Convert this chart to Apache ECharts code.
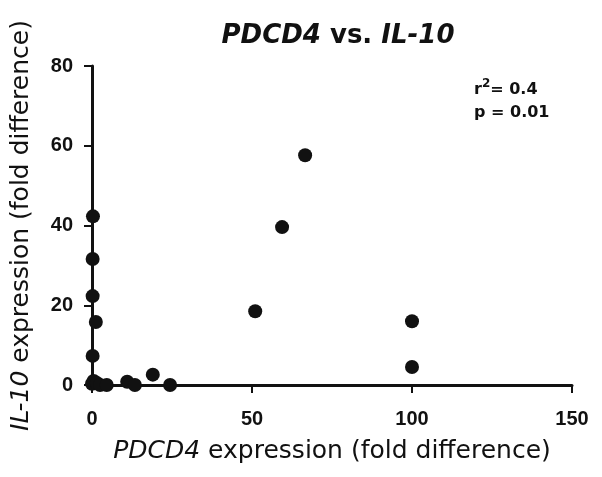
<!DOCTYPE html>
<html><head><meta charset="utf-8">
<script src="https://cdn.jsdelivr.net/npm/echarts@6/dist/echarts.min.js"></script>
<style>html,body{margin:0;padding:0;background:#fff}#c{width:602px;height:477px}</style>
</head><body><div id="c"></div>
<script>
const pdcd4 = [0.3, 0.2, 0.2, 1.2, 0.2, 0, 0.5, 1.5, 2.5, 4.6, 11, 13.4, 19, 24.4, 51, 59.4, 66.6, 100, 100];
const il10  = [42.3, 31.6, 22.3, 15.8, 7.3, 0.3, 1.0, 0.5, 0, 0, 0.8, 0, 2.6, 0, 18.5, 39.6, 57.6, 16, 4.5];
const xTicks = [0, 50, 100, 150];
const yTicks = [0, 20, 40, 60, 80];
const titleParts = ['PDCD4', ' vs. ', 'IL-10'];
const statsText = ['0.4', '0.01'];

const font = 'Liberation Sans, Arial, sans-serif';
const wide = 'DejaVu Sans, sans-serif';
const ink = '#111';
const chart = echarts.init(document.getElementById('c'));
chart.setOption({
  animation: false,
  backgroundColor: '#fff',
  title: {
    text: '{i|' + titleParts[0] + '}{n|' + titleParts[1] + '}{i|' + titleParts[2] + '}',
    left: 333, top: 18, textAlign: 'center',
    textStyle: {
      rich: {
        i: { fontFamily: wide, fontSize: 26, fontWeight: 'bold', fontStyle: 'italic', color: ink },
        n: { fontFamily: wide, fontSize: 26, fontWeight: 'bold', color: ink }
      }
    }
  },
  grid: { left: 92, right: 30, top: 66, bottom: 92 },
  xAxis: {
    type: 'value', min: xTicks[0], max: xTicks[xTicks.length - 1], interval: 50,
    splitLine: { show: false },
    axisLine: { lineStyle: { color: ink, width: 3 } },
    axisTick: { show: true, length: 8, lineStyle: { color: ink, width: 2 } },
    axisLabel: { color: ink, fontFamily: font, fontSize: 20, fontWeight: 'bold', margin: 24 },
    name: '{i|PDCD4}{n| expression (fold difference)}',
    nameLocation: 'middle', nameGap: 54,
    nameTextStyle: {
      rich: {
        i: { fontFamily: wide, fontSize: 25, fontStyle: 'italic', color: ink },
        n: { fontFamily: wide, fontSize: 25, color: ink }
      }
    }
  },
  yAxis: {
    type: 'value', min: yTicks[0], max: yTicks[yTicks.length - 1], interval: 20,
    splitLine: { show: false },
    axisLine: { lineStyle: { color: ink, width: 3 } },
    axisTick: { show: true, length: 8, lineStyle: { color: ink, width: 2 } },
    axisLabel: { color: ink, fontFamily: font, fontSize: 20, fontWeight: 'bold', margin: 19 },
    name: '{i|IL-10}{n| expression (fold difference)}',
    nameLocation: 'middle', nameGap: 58, nameRotate: 90,
    nameTextStyle: {
      rich: {
        i: { fontFamily: wide, fontSize: 25, fontStyle: 'italic', color: ink },
        n: { fontFamily: wide, fontSize: 25, color: ink }
      }
    }
  },
  graphic: [
    {
      type: 'text', left: 474, top: 78,
      style: {
        text: '{n|r}{s|2}{n|= ' + statsText[0] + '}',
        rich: {
          n: { fontFamily: wide, fontSize: 16, fontWeight: 'bold', fill: ink, verticalAlign: 'bottom', lineHeight: 20 },
          s: { fontFamily: wide, fontSize: 12, fontWeight: 'bold', fill: ink, verticalAlign: 'top', lineHeight: 20, padding: [0, 0, 8, 0] }
        }
      }
    },
    {
      type: 'text', left: 474, top: 105,
      style: { text: 'p = ' + statsText[1], font: 'bold 16px ' + wide, fill: ink }
    }
  ],
  series: [{
    type: 'scatter',
    data: pdcd4.map((x, i) => [x, il10[i]]),
    symbolSize: 14,
    clip: false,
    itemStyle: { color: ink, opacity: 1 }
  }]
});
</script></body></html>
